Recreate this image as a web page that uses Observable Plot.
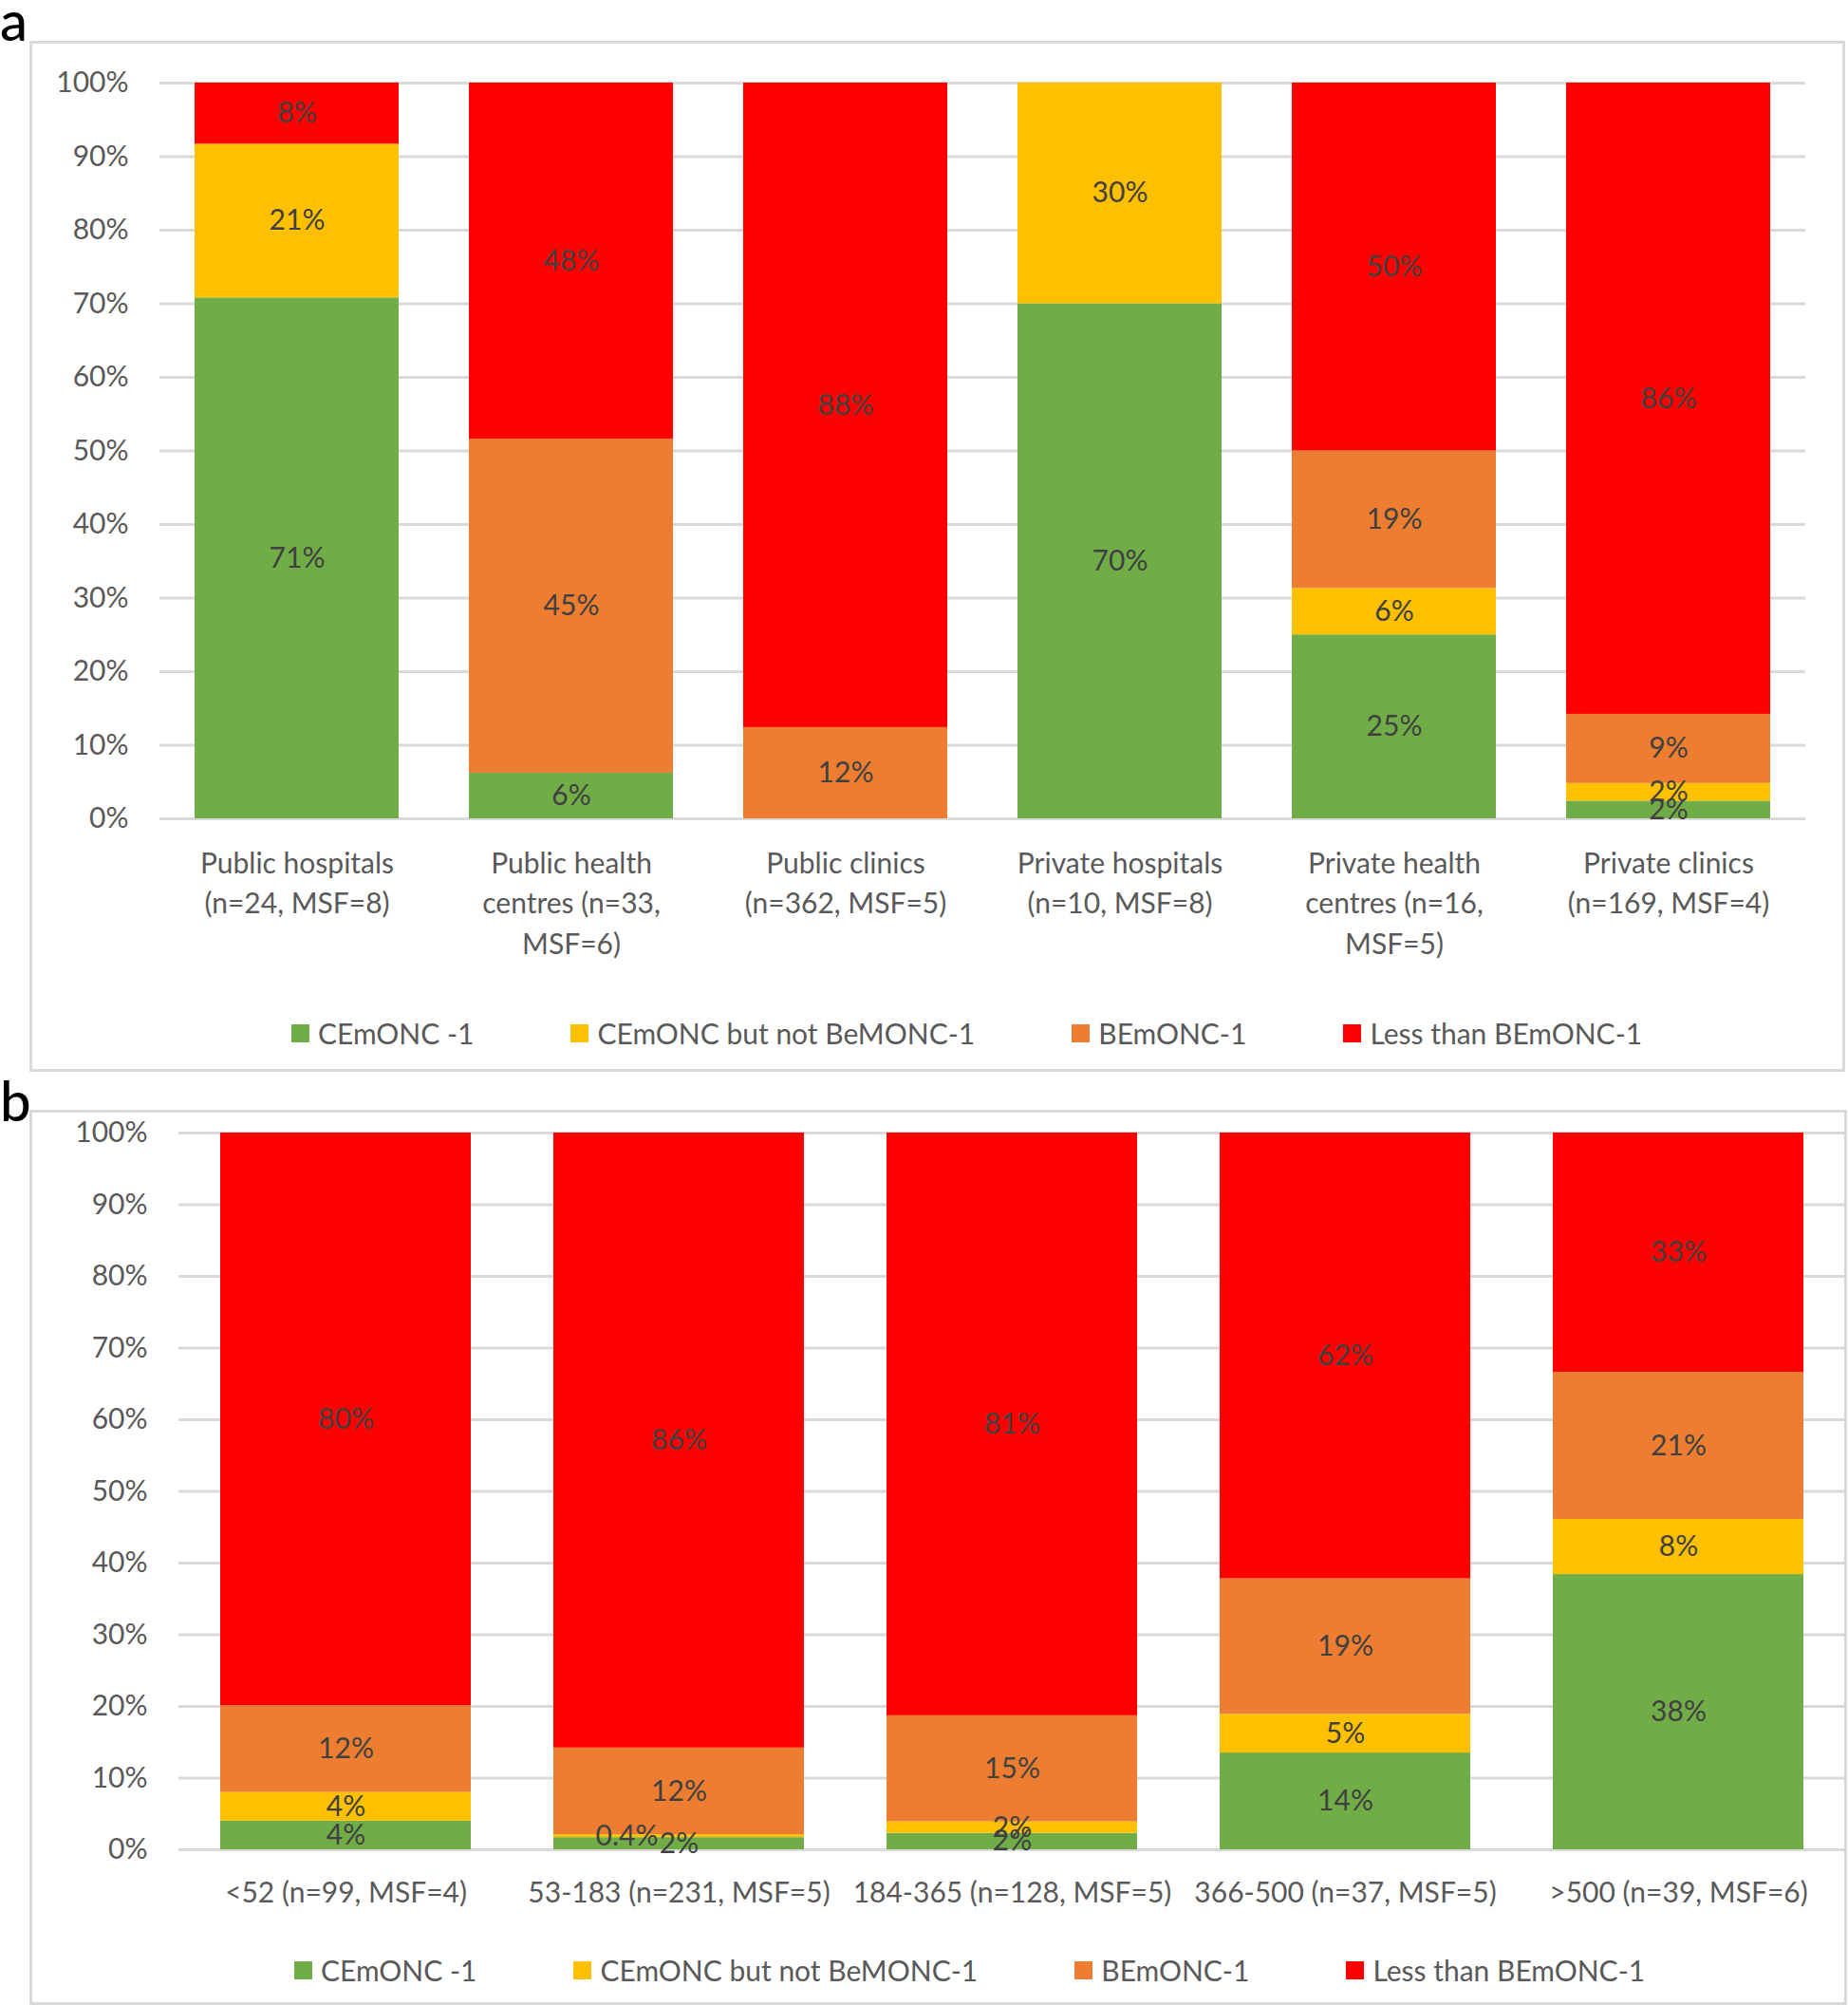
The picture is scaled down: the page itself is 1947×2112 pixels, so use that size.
<!DOCTYPE html>
<html>
<head>
<meta charset="utf-8">
<script src="https://cdn.jsdelivr.net/npm/d3@7"></script>
<script src="https://cdn.jsdelivr.net/npm/@observablehq/plot@0.6"></script>
<style>
  html, body { margin: 0; padding: 0; background: #fff; }
  #root { position: relative; width: 1947px; height: 2112px; font-family: Lato, "Noto Sans", sans-serif; overflow: hidden; }
  .frame { position: absolute; border: 3px solid #d9d9d9; box-sizing: border-box; }
  .panel { position: absolute; left: 0; }
  .tag { position: absolute; left: 0; font-size: 58px; color: #000; line-height: 1; font-weight: 500; }
  .legend { position: absolute; display: flex; gap: 102px; align-items: center; font-size: 30px; color: #595959; white-space: nowrap; }
  .legend .item { display: flex; align-items: center; gap: 9px; }
  .legend .sw { width: 19px; height: 19px; display: inline-block; }
</style>
</head>
<body>
<div id="root">
  <div class="frame" style="left:31px; top:43px; width:1913px; height:1086px;"></div>
  <div class="frame" style="left:31px; top:1169px; width:1915px; height:943px;"></div>
  <div class="tag" style="top:-8px;">a</div>
  <div class="tag" style="top:1130px;">b</div>
  <div class="panel" id="pa" style="top:0px;"></div>
  <div class="panel" id="pb" style="top:1100px;"></div>
  <div class="legend" id="la" style="left:307px; top:1070px;"></div>
  <div class="legend" id="lb" style="left:310px; top:2057px;"></div>
</div>
<script>
// Series (stack order bottom to top)
const seriesNames = ["CEmONC -1", "CEmONC but not BeMONC-1", "BEmONC-1", "Less than BEmONC-1"];
const seriesColors = ["#70AD47", "#FFC000", "#ED7D31", "#FF0000"];
const yTicks = [0, 10, 20, 30, 40, 50, 60, 70, 80, 90, 100];

// Panel a: facility type
const categoriesA = [
  "Public hospitals\n(n=24, MSF=8)",
  "Public health\ncentres (n=33,\nMSF=6)",
  "Public clinics\n(n=362, MSF=5)",
  "Private hospitals\n(n=10, MSF=8)",
  "Private health\ncentres (n=16,\nMSF=5)",
  "Private clinics\n(n=169, MSF=4)"
];
const cemonc1A     = [70.8, 6.2,  0,    70, 25,   2.4];
const cemoncNotBA  = [20.9, 0,    0,    30, 6.3,  2.4];
const bemonc1A     = [0,    45.4, 12.4, 0,  18.7, 9.4];
const lessA        = [8.3,  48.4, 87.6, 0,  50,   85.8];

// Panel b: annual deliveries
const categoriesB = [
  "<52 (n=99, MSF=4)",
  "53-183 (n=231, MSF=5)",
  "184-365 (n=128, MSF=5)",
  "366-500 (n=37, MSF=5)",
  ">500 (n=39, MSF=6)"
];
const cemonc1B     = [4.0,  1.7,  2.3,  13.5, 38.4];
const cemoncNotBB  = [4.0,  0.4,  1.6,  5.4,  7.7];
const bemonc1B     = [12.1, 12.1, 14.8, 18.9, 20.5];
const lessB        = [79.9, 85.8, 81.3, 62.2, 33.4];

const fmt = v => v < 1 ? v.toFixed(1) + "%" : Math.round(v) + "%";

function buildData(cats, vals) {
  const out = [];
  cats.forEach((c, i) => seriesNames.forEach((s, j) => {
    const v = vals[j][i];
    if (v > 0) out.push({cat: c, series: s, value: v});
  }));
  return out;
}

function panel(cats, vals, o) {
  const data = buildData(cats, vals);
  return Plot.plot({
    width: 1947,
    height: o.height,
    marginTop: o.mt, marginBottom: o.mb, marginLeft: o.ml, marginRight: o.mr,
    style: {fontFamily: "Lato, 'Noto Sans', sans-serif", fontSize: "30px", background: "transparent", overflow: "visible"},
    x: {domain: cats, paddingInner: o.pi, paddingOuter: o.pi / 2, axis: null, label: null},
    y: {domain: [0, 100], label: null, axis: null},
    color: {domain: seriesNames, range: seriesColors},
    marks: [
      Plot.ruleY(yTicks, {stroke: "#d9d9d9", strokeWidth: 3}),
      Plot.axisY({ticks: yTicks, tickSize: 0, tickPadding: o.tp, tickFormat: d => d + "%", fill: "#595959", fontSize: 30, label: null}),
      Plot.barY(data, {x: "cat", y: "value", fill: "series"}),
      Plot.text(data, Plot.stackY({x: "cat", y: "value", text: d => d.value >= 1 ? fmt(d.value) : "", fill: "#404040", fontSize: 30})),
      Plot.text(data, Plot.stackY({x: "cat", y: "value", text: d => d.value < 1 ? fmt(d.value) : "", fill: "#404040", fontSize: 30, dx: -55})),
      Plot.text(cats, {x: d => d, text: d => d, frameAnchor: "bottom", lineAnchor: "top", dy: o.ldy, lineHeight: 1.42, fill: "#595959", fontSize: 30})
    ]
  });
}

document.getElementById("pa").appendChild(panel(categoriesA, [cemonc1A, cemoncNotBA, bemonc1A, lessA],
  {height: 1040, mt: 87, mb: 178, ml: 168, mr: 45, pi: 0.256, tp: 33, ldy: 27}));
document.getElementById("pb").appendChild(panel(categoriesB, [cemonc1B, cemoncNotBB, bemonc1B, lessB],
  {height: 1000, mt: 93, mb: 152, ml: 188, mr: 3, pi: 0.248, tp: 33, ldy: 25}));

function legend(el) {
  seriesNames.forEach((s, i) => {
    const it = document.createElement("div");
    it.className = "item";
    const sw = document.createElement("span");
    sw.className = "sw";
    sw.style.background = seriesColors[i];
    const tx = document.createElement("span");
    tx.textContent = s;
    it.appendChild(sw); it.appendChild(tx);
    el.appendChild(it);
  });
}
legend(document.getElementById("la"));
legend(document.getElementById("lb"));
</script>
</body>
</html>
